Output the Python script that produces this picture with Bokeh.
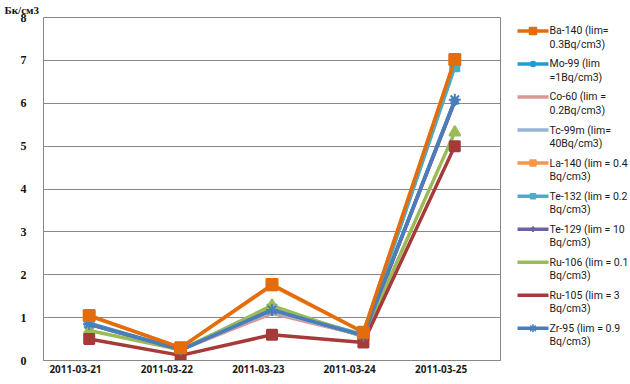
from bokeh.plotting import figure
from bokeh.layouts import row
from bokeh.models import Range1d, FixedTicker
from bokeh.core.properties import value
from bokeh.embed import file_html
from bokeh.resources import INLINE

# ---------------- data ----------------
dates = ["2011-03-21", "2011-03-22", "2011-03-23", "2011-03-24", "2011-03-25"]
y_ticks = [0, 1, 2, 3, 4, 5, 6, 7, 8]
unit_label = "Бк/см3"

legend_line1 = ["Ba-140 (lim=", "Mo-99 (lim", "Co-60 (lim =", "Tc-99m (lim=",
                "La-140 (lim = 0.4", "Te-132 (lim = 0.2", "Te-129 (lim = 10",
                "Ru-106 (lim = 0.1", "Ru-105 (lim = 3", "Zr-95 (lim = 0.9"]
legend_line2 = ["0.3Bq/cm3)", "=1Bq/cm3)", "0.2Bq/cm3)", "40Bq/cm3)",
                "Bq/cm3)", "Bq/cm3)", "Bq/cm3)", "Bq/cm3)", "Bq/cm3)", "Bq/cm3)"]

ba140 = [1.05, 0.30, 1.77, 0.66, 7.02]
mo99 = [0.85, 0.25, 1.15, 0.58, 6.05]
co60 = [0.84, 0.25, 1.10, 0.58, 6.05]
tc99m = [0.85, 0.25, 1.15, 0.58, 6.85]
la140 = [1.04, 0.30, 1.75, 0.66, 7.00]
te132 = [0.87, 0.26, 1.20, 0.60, 6.85]
te129 = [0.85, 0.25, 1.18, 0.58, 6.05]
ru106 = [0.70, 0.25, 1.28, 0.55, 5.32]
ru105 = [0.50, 0.12, 0.60, 0.42, 5.00]
zr95 = [0.85, 0.25, 1.18, 0.58, 6.08]

series = [ba140, mo99, co60, tc99m, la140, te132, te129, ru106, ru105, zr95]
colors = ["#E46C0A", "#1E9CD7", "#D99694", "#95B3D7", "#F79646",
          "#4BACC6", "#7060A0", "#9BBB59", "#A53A38", "#4A7EBB"]
markers = ["square", "circle", "dash", "dash", "square",
           "square", "diamond", "triangle", "square", "asterisk"]
marker_sizes = [11, 7, 8, 8, 10, 9, 7, 11, 10, 12]
legend_markers = [True, True, True, True, True, True, True, False, False, True]

grid_col = "#888888"

# category positions (index based) and label positions (Excel draws the
# date labels slightly left of the category centre)
xpos = list(range(len(dates)))
label_shift = 0.15
label_pos = [round(i - label_shift, 2) for i in xpos]

# ---------------- main chart ----------------
p = figure(width=505, height=384, x_range=Range1d(-0.5, len(dates) - 0.5),
           y_range=Range1d(0, 8), output_backend="svg", toolbar_location=None,
           min_border_left=43, min_border_right=5, min_border_top=17, min_border_bottom=24,
           title=unit_label)
p.title.align = "left"
p.title.offset = -39
p.title.standoff = 3
p.title.text_font = "Liberation Serif"
p.title.text_font_style = "bold"
p.title.text_font_size = "11px"
p.title.text_color = "#111111"

p.outline_line_color = grid_col
p.background_fill_color = "white"
p.border_fill_color = "white"

p.xgrid.grid_line_color = None
p.ygrid.grid_line_color = grid_col
p.ygrid.grid_line_width = 1

p.yaxis.ticker = FixedTicker(ticks=y_ticks)
p.yaxis.axis_line_color = grid_col
p.yaxis.major_tick_line_color = None
p.yaxis.minor_tick_line_color = None
p.yaxis.major_tick_out = 0
p.yaxis.major_tick_in = 0
p.yaxis.minor_tick_out = 0
p.yaxis.axis_label = None
p.yaxis.major_label_text_font = "Liberation Serif"
p.yaxis.major_label_text_font_style = "bold"
p.yaxis.major_label_text_font_size = "12px"
p.yaxis.major_label_text_color = "#111111"
p.yaxis.major_label_standoff = 17

p.xaxis.ticker = FixedTicker(ticks=label_pos)
p.xaxis.major_label_overrides = {lp: d for lp, d in zip(label_pos, dates)}
p.xaxis.axis_line_color = grid_col
p.xaxis.major_tick_line_color = None
p.xaxis.minor_tick_line_color = None
p.xaxis.major_tick_out = 0
p.xaxis.major_tick_in = 0
p.xaxis.minor_tick_out = 0
p.xaxis.axis_label = None
p.xaxis.major_label_text_font = "Open Sans"
p.xaxis.major_label_text_font_style = "bold"
p.xaxis.major_label_text_font_size = "10px"
p.xaxis.major_label_text_color = "#1A1A1A"
p.xaxis.major_label_standoff = 4

# series order as in the workbook, with Ba-140 drawn last (on top)
order = list(range(1, len(series))) + [0]
for i in order:
    p.line(xpos, series[i], line_color=colors[i], line_width=3.5, line_join="round")
    p.scatter(xpos, series[i], marker=markers[i], size=marker_sizes[i],
              fill_color=colors[i], line_color=colors[i], line_width=2)

# ---------------- legend panel ----------------
lw = 125
lh = 384
lg = figure(width=lw, height=lh, x_range=Range1d(0, lw), y_range=Range1d(lh, 0),
            output_backend="svg", toolbar_location=None,
            x_axis_location=None, y_axis_location=None,
            min_border=0, min_border_left=0, min_border_right=0,
            min_border_top=0, min_border_bottom=0)
lg.grid.visible = False
lg.outline_line_color = None

for i in range(len(series)):
    yy = 15 + 37 * i
    lg.line([12, 43], [yy, yy], line_color=colors[i], line_width=3.5)
    if legend_markers[i]:
        lg.scatter([27.5], [yy], marker=markers[i], size=max(5, marker_sizes[i] - 4),
                   fill_color=colors[i], line_color=colors[i], line_width=1.5)
    lg.text([44], [yy], text=[legend_line1[i]], text_font=value("Roboto"),
            text_font_size="10.5px", text_color="#1A1A1A", text_baseline="middle")
    lg.text([44], [yy + 15], text=[legend_line2[i]], text_font=value("Roboto"),
            text_font_size="10.5px", text_color="#1A1A1A", text_baseline="middle")

layout = row(p, lg)
open("out.html", "w").write(file_html(layout, INLINE))
